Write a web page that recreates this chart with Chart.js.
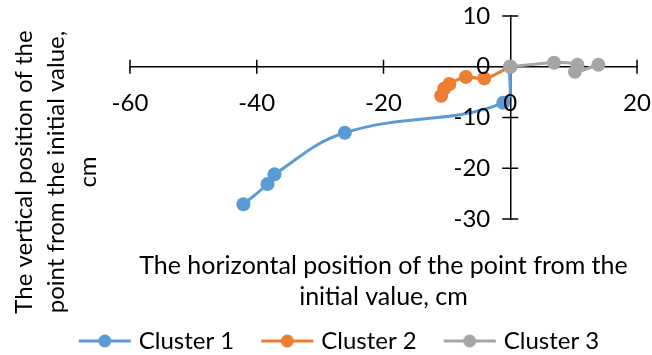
<!DOCTYPE html>
<html>
<head>
<meta charset="utf-8">
<script src="https://cdn.jsdelivr.net/npm/chart.js@4.4.1/dist/chart.umd.min.js"></script>
<style>
  html, body { margin: 0; padding: 0; background: #ffffff; }
  #c { display: block; }
</style>
</head>
<body>
<canvas id="c" width="652" height="355"></canvas>
<script>
// Cluster trajectories: horizontal / vertical displacement (cm)
const cluster1X = [0, -1.1, -26.1, -37.2, -38.3, -42.1];
const cluster1Y = [0, -7.1, -13.0, -21.2, -23.1, -27.1];
const cluster2X = [0, -4.1, -7.0, -9.6, -10.4, -10.9];
const cluster2Y = [0, -2.3, -2.0, -3.4, -4.3, -5.7];
const cluster3X = [0, 6.9, 10.6, 10.2, 13.9];
const cluster3Y = [0, 0.8, 0.4, -1.0, 0.4];

const seriesNames = ['Cluster 1', 'Cluster 2', 'Cluster 3'];
const seriesColors = ['#5B9BD5', '#ED7D31', '#A5A5A5'];

const xTicks = [-60, -40, -20, 0, 20];
const yTicks = [-30, -20, -10, 0, 10];

const xTitleLines = ['The horizontal position of the point from the', 'initial value, cm'];
const yTitleLines = ['The vertical position of the', 'point from the initial value,', 'cm'];

// ---- styling ----
const FONT_FAMILY = 'Lato, "Open Sans", sans-serif';
const TEXT_SIZE = 24;
const X_TITLE_SIZE = 25;
const TICK_SIZE = 24;
const TEXT_COLOR = '#000000';
const AXIS_WIDTH = 1.5;

Chart.defaults.font.family = FONT_FAMILY;
Chart.defaults.color = TEXT_COLOR;

const seriesX = [cluster1X, cluster2X, cluster3X];
const seriesY = [cluster1Y, cluster2Y, cluster3Y];

// Legend symbol: short line with a marker in the middle
function legendSymbol(color) {
  const c = document.createElement('canvas');
  c.width = 54; c.height = 16;
  const g = c.getContext('2d');
  g.strokeStyle = color; g.lineWidth = 3;
  g.beginPath(); g.moveTo(1, 8); g.lineTo(53, 8); g.stroke();
  g.fillStyle = color;
  g.beginPath(); g.arc(27, 8, 6.5, 0, Math.PI * 2); g.fill();
  return c;
}
const legendSymbols = seriesColors.map(legendSymbol);

// Side boxes that hold the axis titles
function titleBox(position, size, drawFn) {
  return {
    position, weight: 0, fullSize: false,
    options: {},
    isHorizontal() { return position === 'top' || position === 'bottom'; },
    update(maxWidth, maxHeight) {
      if (this.isHorizontal()) { this.width = maxWidth; this.height = size; }
      else { this.width = size; this.height = maxHeight; }
    },
    draw() { drawFn(this); }
  };
}

const axisTitles = {
  id: 'axisTitles',
  beforeInit(chart) {
    // vertical axis title, left of the plot
    Chart.layouts.addBox(chart, titleBox('left', 85, (box) => {
      const ctx = chart.ctx;
      const area = chart.chartArea;
      const cx = [area.left - 106, area.left - 74, area.left - 42];
      const cy = area.top + 156;
      ctx.save();
      ctx.fillStyle = TEXT_COLOR;
      ctx.font = TEXT_SIZE + 'px ' + FONT_FAMILY;
      ctx.textAlign = 'center';
      ctx.textBaseline = 'middle';
      yTitleLines.forEach((line, i) => {
        ctx.save();
        ctx.translate(cx[i], cy);
        ctx.rotate(-Math.PI / 2);
        ctx.fillText(line, 0, 0);
        ctx.restore();
      });
      ctx.restore();
    }));
    // horizontal axis title, under the plot
    Chart.layouts.addBox(chart, titleBox('bottom', 79, (box) => {
      const ctx = chart.ctx;
      const area = chart.chartArea;
      const cx = (area.left + area.right) / 2;
      ctx.save();
      ctx.fillStyle = TEXT_COLOR;
      ctx.font = X_TITLE_SIZE + 'px ' + FONT_FAMILY;
      ctx.textAlign = 'center';
      ctx.textBaseline = 'middle';
      xTitleLines.forEach((line, i) => ctx.fillText(line, cx, box.top + 47 + i * 31));
      ctx.restore();
    }));
  }
};

// Cross tick marks on both axes and the value labels of the vertical axis
const crossAxes = {
  id: 'crossAxes',
  beforeDatasetsDraw(chart) {
    const { ctx, scales: { x, y } } = chart;
    const x0 = x.getPixelForValue(0);
    const y0 = y.getPixelForValue(0);
    ctx.save();
    ctx.strokeStyle = '#000000';
    ctx.lineWidth = AXIS_WIDTH;
    ctx.beginPath();
    x.ticks.forEach(t => {
      const px = x.getPixelForValue(t.value);
      ctx.moveTo(px, y0 - 7); ctx.lineTo(px, y0 + 7);
    });
    y.ticks.forEach(t => {
      const py = y.getPixelForValue(t.value);
      ctx.moveTo(x0 - 8, py); ctx.lineTo(x0 + 8, py);
    });
    ctx.stroke();
    ctx.restore();
  },
  afterDatasetsDraw(chart) {
    const { ctx, scales: { x, y } } = chart;
    const x0 = x.getPixelForValue(0);
    ctx.save();
    ctx.fillStyle = TEXT_COLOR;
    ctx.font = TICK_SIZE + 'px ' + FONT_FAMILY;
    ctx.textAlign = 'right';
    ctx.textBaseline = 'middle';
    y.ticks.forEach(t => ctx.fillText(String(t.value), x0 - 20, y.getPixelForValue(t.value)));
    ctx.restore();
  }
};

const datasets = seriesNames.map((name, i) => ({
  label: name,
  data: seriesX[i].map((xv, k) => ({ x: xv, y: seriesY[i][k] })),
  showLine: true,
  borderColor: seriesColors[i],
  backgroundColor: seriesColors[i],
  borderWidth: 3,
  tension: 0.4,
  pointRadius: 7,
  pointHoverRadius: 7,
  pointBorderWidth: 0,
  pointBackgroundColor: seriesColors[i],
  order: seriesNames.length - 1 - i
}));

new Chart(document.getElementById('c'), {
  type: 'scatter',
  data: { datasets },
  plugins: [axisTitles, crossAxes],
  options: {
    responsive: false,
    animation: false,
    devicePixelRatio: 1,
    layout: { padding: { left: 45, right: 15, top: 16, bottom: -8 } },
    scales: {
      x: {
        type: 'linear',
        position: { y: 0 },
        min: -60, max: 20,
        afterBuildTicks: (s) => { s.ticks = xTicks.map(v => ({ value: v })); },
        // tick length only offsets the labels; the marks themselves are drawn as crosses
        grid: { display: false, drawTicks: true, tickLength: 22 },
        border: { display: true, color: '#000000', width: AXIS_WIDTH },
        ticks: { font: { size: TICK_SIZE }, color: TEXT_COLOR, padding: 0, maxRotation: 0, z: 1 }
      },
      y: {
        type: 'linear',
        position: { x: 0 },
        min: -30, max: 10,
        afterBuildTicks: (s) => { s.ticks = yTicks.map(v => ({ value: v })); },
        grid: { display: false, drawTicks: false },
        border: { display: true, color: '#000000', width: AXIS_WIDTH },
        ticks: { display: false }
      }
    },
    plugins: {
      tooltip: { enabled: false },
      legend: {
        position: 'bottom',
        labels: {
          usePointStyle: true,
          pointStyleWidth: 44,
          padding: 31,
          color: TEXT_COLOR,
          font: { size: TEXT_SIZE },
          generateLabels(chart) {
            return chart.data.datasets.map((ds, i) => ({
              text: ds.label,
              pointStyle: legendSymbols[i],
              fillStyle: ds.backgroundColor,
              strokeStyle: ds.borderColor,
              lineWidth: 0,
              fontColor: TEXT_COLOR,
              hidden: !chart.isDatasetVisible(i),
              datasetIndex: i
            }));
          }
        }
      }
    }
  }
});
</script>
</body>
</html>
